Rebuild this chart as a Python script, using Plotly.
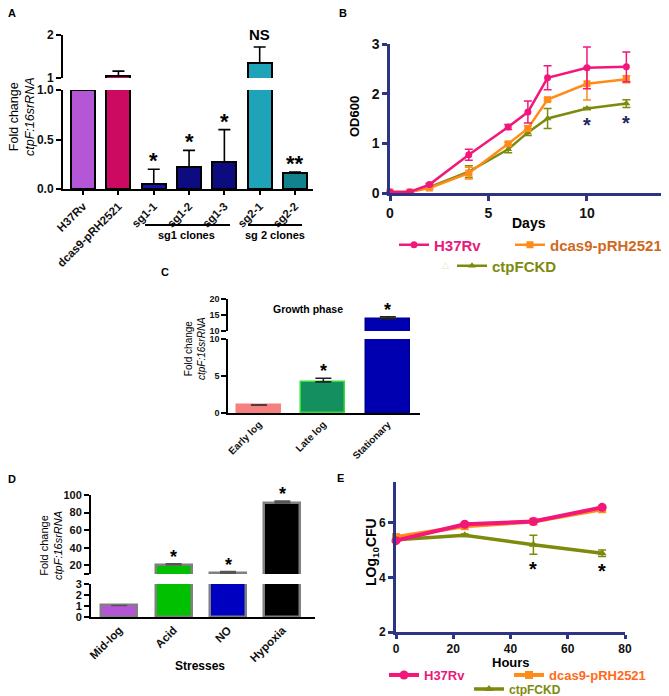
import plotly.graph_objects as go

W, H = 669, 696
OFF = 8  # the page body adds an 8 px margin; coordinates below are screen pixels
FONT = "Liberation Sans, Arial, sans-serif"


def px(x):
    return (x - OFF) / W


def py(y):
    return 1 - (y - OFF) / H


def xd(a, b):
    return [px(a), px(b)]


def yd(t, b):
    return [py(b), py(t)]


# ---------------- Panel A data ----------------
a_cats = ["H37Rv", "dcas9-pRH2521", "sg1-1", "sg1-2", "sg1-3", "sg2-1", "sg2-2"]
a_vals = [1.0, 1.05, 0.05, 0.22, 0.27, 1.35, 0.16]
a_errs = [0.0, 0.11, 0.15, 0.17, 0.33, 0.37, 0.01]
a_marks = ["", "", "*", "*", "*", "NS", "**"]
a_colors = ["#b357d6", "#cc0a62", "#1414aa", "#0c0c80", "#0c0c80", "#1ea3b8", "#13828f"]
a_break = 1.0

# ---------------- Panel B data ----------------
b_days = [0, 1, 2, 4, 6, 7, 8, 10, 12]
b_h37 = [0.02, 0.02, 0.17, 0.77, 1.33, 1.63, 2.32, 2.52, 2.54]
b_h37_err = [0.01, 0.01, 0.02, 0.11, 0.05, 0.22, 0.24, 0.42, 0.30]
b_dcas = [0.02, 0.02, 0.10, 0.40, 0.99, 1.30, 1.88, 2.20, 2.29]
b_dcas_err = [0.01, 0.01, 0.03, 0.12, 0.03, 0.05, 0.03, 0.33, 0.07]
b_ctpf = [0.02, 0.02, 0.12, 0.43, 0.88, 1.22, 1.50, 1.70, 1.80]
b_ctpf_err = [0.01, 0.01, 0.02, 0.12, 0.07, 0.06, 0.20, 0.02, 0.08]
b_star_days = [10, 12]

# ---------------- Panel C data ----------------
c_cats = ["Early log", "Late log", "Stationary"]
c_vals = [1.08, 4.2, 13.75]
c_errs = [0.0, 0.5, 0.65]
c_marks = ["", "*", "*"]
c_colors = ["#f48080", "#149060", "#0000b0"]
c_lines = ["#f48080", "#33e033", "#000090"]
c_break = 10

# ---------------- Panel D data ----------------
d_cats = ["Mid-log", "Acid", "NO", "Hypoxia"]
d_vals = [1.05, 20.6, 11.0, 91.0]
d_errs = [0.0, 0.9, 1.8, 2.0]
d_marks = ["", "*", "*", "*"]
d_colors = ["#b455d8", "#00c000", "#0000c0", "#000000"]
d_break = 3

# ---------------- Panel E data ----------------
e_hours = [0, 24, 48, 72]
e_h37 = [5.35, 5.95, 6.05, 6.57]
e_h37_err = [0.03, 0.04, 0.03, 0.03]
e_dcas = [5.48, 5.88, 6.05, 6.50]
e_dcas_err = [0.03, 0.03, 0.03, 0.03]
e_ctpf = [5.38, 5.55, 5.20, 4.89]
e_ctpf_err = [0.02, 0.04, 0.35, 0.12]
e_star_hours = [48, 72]

PINK = "#f2177b"
ORANGE = "#ff8c1a"
OLIVE = "#7d8a0c"
NAVY = "#2e3484"
STAR_NAVY = "#25285a"

fig = go.Figure()


def split_bars(cats, vals, errs, colors, lines, brk, lw, ecolor, ewidth, width,
               xl, yl, xu, yu):
    # lower segment: every bar
    fig.add_trace(go.Bar(
        x=cats, y=vals, width=width,
        marker=dict(color=colors, line=dict(color=lines, width=lw)),
        error_y=dict(type="data", array=errs, arrayminus=[0] * len(errs),
                     color=ecolor, thickness=1.6, width=ewidth),
        xaxis=xl, yaxis=yl, showlegend=False, hoverinfo="skip"))
    # upper segment: only bars that rise above the break
    keep = [i for i, v in enumerate(vals) if v > brk]
    lc = lines if isinstance(lines, str) else [lines[i] for i in keep]
    fig.add_trace(go.Bar(
        x=[cats[i] for i in keep], y=[vals[i] for i in keep], width=width,
        marker=dict(color=[colors[i] for i in keep], line=dict(color=lc, width=lw)),
        error_y=dict(type="data", array=[errs[i] for i in keep], arrayminus=[0] * len(keep),
                     color=ecolor, thickness=1.6, width=ewidth),
        xaxis=xu, yaxis=yu, showlegend=False, hoverinfo="skip"))


split_bars(a_cats, a_vals, a_errs, a_colors, "black", a_break, 2, "black", 6, 0.68,
           "x", "y", "x2", "y2")
split_bars(c_cats, c_vals, c_errs, c_colors, c_lines, c_break, 1.5, "#222", 8, 0.68,
           "x4", "y4", "x5", "y5")
split_bars(d_cats, d_vals, d_errs, d_colors, "#808080", d_break, 2.5, "#555", 8, 0.66,
           "x6", "y6", "x7", "y7")


def line_trace(x, y, err, color, sym, name, xa, ya, legend, lw=2.5, ms=7):
    return go.Scatter(
        x=x, y=y, mode="lines+markers", name=name,
        line=dict(color=color, width=lw),
        marker=dict(symbol=sym, size=ms, color=color),
        error_y=dict(type="data", array=err, color=color, thickness=1.5, width=4),
        xaxis=xa, yaxis=ya, legend=legend, cliponaxis=False)


# B
fig.add_trace(line_trace(b_days, b_ctpf, b_ctpf_err, OLIVE, "triangle-up",
                         "<span style='color:#7d8a0c'>ctpFCKD</span>", "x3", "y3", "legend3"))
fig.add_trace(line_trace(b_days, b_dcas, b_dcas_err, ORANGE, "square",
                         "<span style='color:#d0691e'>dcas9-pRH2521</span>", "x3", "y3", "legend2"))
fig.add_trace(line_trace(b_days, b_h37, b_h37_err, PINK, "circle",
                         "<span style='color:#e8197a'>H37Rv</span>", "x3", "y3", "legend"))
# E
fig.add_trace(line_trace(e_hours, e_ctpf, e_ctpf_err, OLIVE, "triangle-up",
                         "<span style='color:#7d8a0c'>ctpFCKD</span>", "x8", "y8", "legend6",
                         lw=3.5, ms=8))
fig.add_trace(line_trace(e_hours, e_dcas, e_dcas_err, ORANGE, "square",
                         "<span style='color:#ff6a1a'>dcas9-pRH2521</span>", "x8", "y8", "legend5",
                         lw=4, ms=8))
fig.add_trace(line_trace(e_hours, e_h37, e_h37_err, PINK, "circle",
                         "<span style='color:#e8197a'>H37Rv</span>", "x8", "y8", "legend4",
                         lw=4, ms=9))


# ---------------- axes ----------------
def ax(color="black", lw=2, size=12, **kw):
    d = dict(showline=True, linecolor=color, linewidth=lw, ticks="outside",
             ticklen=5, tickwidth=lw, tickcolor=color, showgrid=False, zeroline=False,
             automargin=False,
             tickfont=dict(family=FONT, size=size, color="#111", weight="bold"))
    d.update(kw)
    return d


layout_axes = dict(
    # A
    xaxis=ax(domain=xd(63, 313), anchor="y", range=[-0.57, 6.51], tickangle=-45,
             size=11.5, ticklen=4),
    yaxis=ax(domain=yd(90, 189), anchor="x", range=[0, 1], tickvals=[0, 0.5, 1],
             ticktext=["0.0", "0.5", "1.0"]),
    xaxis2=dict(domain=xd(63, 313), anchor="y2", matches="x", visible=False),
    yaxis2=ax(domain=yd(35, 78), anchor="x2", range=[1, 2], tickvals=[1, 2]),
    # B
    xaxis3=ax(color=NAVY, lw=2.5, size=14, domain=xd(390, 663), anchor="y3",
              range=[0, 13.86], tickvals=[0, 5, 10]),
    yaxis3=ax(color=NAVY, lw=2.5, size=14, domain=yd(44, 193), anchor="x3",
              range=[0, 3], tickvals=[0, 1, 2, 3]),
    # C
    xaxis4=ax(lw=1.5, size=10, domain=xd(228, 420), anchor="y4", range=[-0.48, 2.5],
              tickangle=-45, ticks=""),
    yaxis4=ax(lw=1.5, size=9, domain=yd(339, 413), anchor="x4", range=[0, 10],
              tickvals=[0, 5, 10]),
    xaxis5=dict(domain=xd(228, 420), anchor="y5", matches="x4", visible=False),
    yaxis5=ax(lw=1.5, size=9, domain=yd(299, 331), anchor="x5", range=[10, 20],
              tickvals=[10, 15, 20]),
    # D
    xaxis6=ax(domain=xd(91, 315), anchor="y6", range=[-0.52, 3.6], tickangle=-45,
              ticks="", size=11.5),
    yaxis6=ax(size=11, domain=yd(584, 617), anchor="x6", range=[0, 3],
              tickvals=[0, 1, 2, 3]),
    xaxis7=dict(domain=xd(91, 315), anchor="y7", matches="x6", visible=False),
    yaxis7=ax(size=11, domain=yd(495, 574), anchor="x7", range=[10, 100],
              tickvals=[10, 20, 40, 60, 80, 100],
              ticktext=["", "20", "40", "60", "80", "100"]),
    # E
    xaxis8=ax(color=NAVY, lw=3, size=12, domain=xd(396, 625), anchor="y8",
              range=[0, 80], tickvals=[0, 20, 40, 60, 80], ticklen=4),
    yaxis8=ax(color=NAVY, lw=3, size=12, domain=yd(482, 632), anchor="x8",
              range=[2, 7.5], tickvals=[2, 4, 6]),
)

# ---------------- annotations ----------------
ann = []


def label(text, x, y, size=12, bold=True, angle=0, color="black"):
    ann.append(dict(text=text, x=px(x), y=py(y), xref="paper", yref="paper",
                    showarrow=False, xanchor="center", yanchor="middle",
                    textangle=angle,
                    font=dict(family=FONT, size=size, color=color,
                              weight="bold" if bold else "normal")))


for t, x, y in (("A", 12, 13), ("B", 343, 13), ("C", 165, 272), ("D", 12, 479), ("E", 340, 478)):
    label(t, x, y, size=11)

# Y / X titles
label("Fold change<br><i>ctpF:16srRNA</i>", 22, 117, size=12.5, bold=False, angle=-90)
label("Fold change<br><i>ctpF:16srRNA</i>", 195, 349, size=10, bold=False, angle=-90)
label("Fold change<br><i>ctpF:16srRNA</i>", 51, 546, size=11, bold=False, angle=-90)
label("OD600", 355, 117, size=13, angle=-90)
label("Days", 529, 223, size=14)
label("LOg<sub>10</sub>CFU", 372, 552, size=14, angle=-90)
label("Hours", 511, 662, size=13)
label("Stresses", 200, 666, size=12)
label("Growth phase", 308, 309, size=10.5)
label("sg1 clones", 187, 235, size=11)
label("sg 2 clones", 275, 235, size=11)
label("\u25b3", 445, 265, size=9, bold=False, color="#e2e2c4")


def star(text, x, y, xref, yref, size, color="black", anchor="bottom", shift=-6):
    ann.append(dict(text=text, x=x, y=y, xref=xref, yref=yref, showarrow=False,
                    yanchor=anchor, yshift=shift,
                    font=dict(family=FONT, size=size, color=color, weight="bold")))


for cat, v, e, m in zip(a_cats, a_vals, a_errs, a_marks):
    if m:
        up = v + e > a_break
        star(m, cat, v + e, "x2" if up else "x", "y2" if up else "y",
             15 if m == "NS" else 22, shift=2 if m == "NS" else -6)
for cat, v, e, m in zip(c_cats, c_vals, c_errs, c_marks):
    if m:
        up = v + e > c_break
        star(m, cat, v + e, "x5" if up else "x4", "y5" if up else "y4", 18, shift=-5)
for cat, v, e, m in zip(d_cats, d_vals, d_errs, d_marks):
    if m:
        star(m, cat, v + e, "x7", "y7", 18, shift=-5)
for d in b_star_days:
    i = b_days.index(d)
    star("*", d, b_ctpf[i] - b_ctpf_err[i], "x3", "y3", 20, color=STAR_NAVY, anchor="top", shift=-2)
for hh in e_star_hours:
    i = e_hours.index(hh)
    star("*", hh, e_ctpf[i] - e_ctpf_err[i], "x8", "y8", 20, anchor="top", shift=-2)

shapes = [
    dict(type="line", xref="paper", yref="paper", x0=px(145), x1=px(230), y0=py(225), y1=py(225),
         line=dict(color="black", width=2)),
    dict(type="line", xref="paper", yref="paper", x0=px(248), x1=px(302), y0=py(225), y1=py(225),
         line=dict(color="black", width=2)),
]


def leg(x, y, size):
    return dict(x=px(x), y=py(y), xanchor="left", yanchor="middle", orientation="h",
                font=dict(family=FONT, size=size, weight="bold"), bgcolor="rgba(0,0,0,0)",
                itemwidth=30, tracegroupgap=0)


fig.update_layout(
    width=W, height=H, margin=dict(l=0, r=0, t=0, b=0, autoexpand=False),
    paper_bgcolor="white", plot_bgcolor="white",
    font=dict(family=FONT, color="black"),
    barmode="overlay", bargap=0,
    showlegend=True,
    legend=leg(394, 245, 15),
    legend2=leg(510, 245, 15),
    legend3=leg(452, 266, 15),
    legend4=leg(384, 675, 13),
    legend5=leg(509, 675, 13),
    legend6=leg(469, 689, 12),
    annotations=ann, shapes=shapes,
    **layout_axes,
)

fig.write_html("out.html")
